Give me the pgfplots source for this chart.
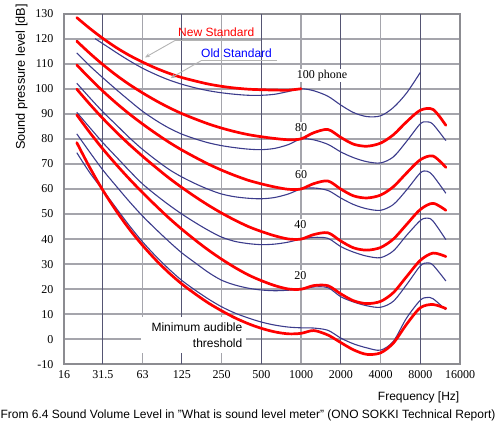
\documentclass[border=0pt]{standalone}
\usepackage{fontspec}
\setmainfont{Liberation Serif}
\setsansfont{Liberation Sans}
\usepackage{pgfplots}
\pgfplotsset{compat=1.18}
\usetikzlibrary{arrows.meta}
\definecolor{newred}{RGB}{255,0,0}
\definecolor{oldblue}{RGB}{60,60,140}
\definecolor{gridlight}{RGB}{165,165,172}
\definecolor{griddark}{RGB}{85,85,115}
\definecolor{framegray}{RGB}{140,140,145}
\definecolor{leadergray}{RGB}{180,180,180}
\definecolor{labelblue}{RGB}{0,0,255}

\begin{document}
\begin{tikzpicture}[x=1pt,y=1pt]
\useasboundingbox (0,0) rectangle (496,424);
\begin{axis}[
  at={(64pt,59.6pt)}, anchor=south west,
  scale only axis, width=396pt, height=350.8pt,
  xmode=log, xmin=16, xmax=16000, ymin=-10, ymax=130,
  xtick={16,63,250,1000,4000,16000},
  xticklabels={16,63,250,1000,4000,16000},
  extra x ticks={31.5,125,500,2000,8000},
  extra x tick labels={31.5,125,500,2000,8000},
  extra x tick style={grid=major, major grid style={griddark,line width=1.1pt}},
  ytick={-10,0,...,130},
  yticklabels={-10,0,10,20,30,40,50,60,70,80,90,100,110,120,130},
  grid=major,
  major grid style={gridlight,line width=1.8pt},
  axis line style={framegray,line width=2pt},
  major tick length=0pt,
  tick label style={font=\fontsize{12}{14}\selectfont},
  xticklabel style={yshift=-3pt},
  yticklabel style={xshift=-7pt},
]
% white box behind the threshold label
\fill[white] (axis cs:61.6,9) rectangle (axis cs:380,-5.4);

% ---------- Old standard (thin blue) ----------
\addplot[oldblue, line width=1.1pt, smooth] coordinates {
(27.5,120.0) (31.5,118.0) (40,114.4) (50,111.2) (63,108.2) (80,105.6) (100,103.5)
(125,101.8) (160,100.3) (200,99.2) (250,98.4) (315,97.8) (400,97.4) (500,97.4)
(630,97.8) (800,98.9) (1000,100.0) (1250,99.2) (1600,97.0) (2000,93.5) (2500,90.5)
(3150,88.9) (4000,89.2) (5000,92.5) (6300,98.3) (8000,106.5)};
\addplot[oldblue, line width=1.1pt, smooth] coordinates {
(20,114.3) (25,109.2) (31.5,104.4) (40,99.6) (50,95.3) (63,91.0) (80,87.3) (100,84.3)
(125,81.9) (160,79.9) (200,78.4) (250,77.3) (315,76.5) (400,75.9) (500,75.7)
(630,76.2) (800,77.7) (1000,80.0) (1250,79.6) (1600,77.8) (2000,74.8) (2500,72.5)
(3150,70.9) (4000,70.4) (5000,72.8) (6300,79.0) (8000,86.0) (9000,86.8) (10000,85.8) (12500,79.3)};
\addplot[oldblue, line width=1.1pt, smooth] coordinates {
(20,102.2) (25,96.5) (31.5,90.8) (40,85.5) (50,80.5) (63,75.8) (80,71.5) (100,67.8)
(125,64.8) (160,62.0) (200,59.8) (250,58.0) (315,56.9) (400,56.3) (500,56.1)
(630,56.6) (800,58.0) (1000,60.0) (1250,60.4) (1600,59.4) (2000,56.4) (2500,53.8)
(3150,52.1) (4000,51.5) (5000,53.8) (6300,59.6) (8000,66.4) (9000,67.1) (10000,65.3) (12500,58.3)};
\addplot[oldblue, line width=1.1pt, smooth] coordinates {
(20,90.6) (25,84.6) (31.5,78.5) (40,72.7) (50,67.3) (63,62.0) (80,57.5) (100,53.6)
(125,50.0) (160,46.4) (200,43.4) (250,40.8) (315,39.1) (400,38.2) (500,37.8)
(630,38.0) (800,38.8) (1000,40.0) (1250,40.7) (1600,40.3) (2000,37.0) (2500,34.8)
(3150,33.2) (4000,32.6) (5000,35.3) (6300,41.5) (8000,47.4) (9000,48.4) (10000,47.2) (12500,39.8)};
\addplot[oldblue, line width=1.1pt, smooth] coordinates {
(20,82.0) (25,74.8) (31.5,67.6) (40,61.0) (50,55.0) (63,49.2) (80,43.8) (100,39.0)
(125,34.5) (160,30.3) (200,26.6) (250,23.6) (315,21.7) (400,20.4) (500,19.7)
(630,19.4) (800,19.6) (1000,20.0) (1250,20.9) (1600,20.6) (2000,17.0) (2500,14.9)
(3150,13.4) (4000,12.8) (5000,15.2) (6300,21.8) (8000,29.3) (9000,30.5) (10000,29.6) (12500,23.3)};
\addplot[oldblue, line width=1.1pt, smooth] coordinates {
(20,74.5) (25,66.6) (31.5,59.6) (40,52.2) (50,45.4) (63,38.9) (80,33.0) (100,28.0)
(125,23.5) (160,19.4) (200,16.0) (250,13.0) (315,10.5) (400,8.5) (500,6.9)
(630,5.7) (800,4.9) (1000,4.6) (1250,4.5) (1600,3.6) (2000,0.5) (2500,-1.8)
(3150,-3.4) (4000,-4.3) (5000,-0.8) (6300,8.5) (8000,15.6) (9000,16.7) (10000,16.2) (12500,11.8)};

% ---------- New standard (thick red) ----------
\addplot[newred, line width=2.7pt, smooth, line cap=round, line join=round] coordinates {
(20,128.41) (25,124.15) (31.5,120.11) (40,116.38) (50,113.35) (63,110.65) (80,108.16)
(100,106.17) (125,104.48) (160,103.03) (200,101.85) (250,100.97) (315,100.30)
(400,99.83) (500,99.62) (630,99.50) (800,99.44) (1000,100.01)};
\addplot[newred, line width=2.7pt, smooth, line cap=round, line join=round] coordinates {
(20,118.99) (25,114.23) (31.5,109.65) (40,105.34) (50,101.72) (63,98.36) (80,95.17)
(100,92.48) (125,90.09) (160,87.82) (200,85.92) (250,84.31) (315,82.89) (400,81.68)
(500,80.86) (630,80.17) (800,79.67) (1000,80.01) (1250,82.48) (1600,83.74) (2000,80.59)
(2500,77.88) (3150,77.07) (4000,78.31) (5000,81.62) (6300,86.81) (8000,91.41)
(10000,91.74) (12500,85.41)};
\addplot[newred, line width=2.7pt, smooth, line cap=round, line join=round] coordinates {
(20,109.51) (25,104.23) (31.5,99.08) (40,94.18) (50,89.96) (63,85.94) (80,82.05)
(100,78.65) (125,75.56) (160,72.48) (200,69.86) (250,67.53) (315,65.39) (400,63.45)
(500,62.05) (630,60.82) (800,59.89) (1000,60.01) (1250,62.15) (1600,63.19) (2000,59.96)
(2500,57.26) (3150,56.42) (4000,57.57) (5000,60.89) (6300,66.36) (8000,71.66)
(10000,73.15) (12500,68.63)};
\addplot[newred, line width=2.7pt, smooth, line cap=round, line join=round] coordinates {
(20,99.85) (25,93.94) (31.5,88.17) (40,82.63) (50,77.78) (63,73.08) (80,68.48)
(100,64.37) (125,60.59) (160,56.70) (200,53.41) (250,50.40) (315,47.58) (400,44.98)
(500,43.05) (630,41.34) (800,40.06) (1000,40.01) (1250,41.82) (1600,42.51) (2000,39.23)
(2500,36.51) (3150,35.61) (4000,36.65) (5000,40.01) (6300,45.83) (8000,51.80)
(10000,54.28) (12500,51.49)};
\addplot[newred, line width=2.7pt, smooth, line cap=round, line join=round] coordinates {
(20,89.58) (25,82.65) (31.5,75.98) (40,69.62) (50,64.02) (63,58.55) (80,53.19)
(100,48.38) (125,43.94) (160,39.37) (200,35.51) (250,31.99) (315,28.69) (400,25.67)
(500,23.43) (630,21.48) (800,20.10) (1000,20.01) (1250,21.46) (1600,21.40) (2000,18.15)
(2500,15.39) (3150,14.26) (4000,15.14) (5000,18.64) (6300,25.02) (8000,31.52)
(10000,34.43) (12500,33.04)};
\addplot[newred, line width=2.7pt, smooth, line cap=round, line join=round] coordinates {
(20,78.5) (25,68.7) (31.5,59.5) (40,51.1) (50,44.0) (63,37.5) (80,31.5) (100,26.5)
(125,22.1) (160,17.9) (200,14.4) (250,11.4) (315,8.6) (400,6.2) (500,4.4) (630,3.0)
(800,2.2) (1000,2.4) (1250,3.5) (1600,1.7) (2000,-1.3) (2500,-4.2) (3150,-6.0)
(4000,-5.4) (5000,-1.5) (6300,6.0) (8000,12.6) (10000,13.9) (12500,12.3)};

% ---------- labels inside the plot ----------
\node[anchor=west, fill=white, inner sep=1pt, font=\fontsize{12}{14}\selectfont] at (axis cs:912,105.3) {100 phone};
\node[fill=white, inner sep=1pt, font=\fontsize{12}{14}\selectfont] at (axis cs:1000,84.7) {80};
\node[fill=white, inner sep=1pt, font=\fontsize{12}{14}\selectfont] at (axis cs:1000,65.9) {60};
\node[fill=white, inner sep=1pt, font=\fontsize{12}{14}\selectfont] at (axis cs:990,45.9) {40};
\node[fill=white, inner sep=1pt, font=\fontsize{12}{14}\selectfont] at (axis cs:990,25.6) {20};
\node[anchor=east, align=right, inner sep=0pt, font=\sffamily\fontsize{12}{16}\selectfont] at (axis cs:360,1.6) {Minimum audible\\threshold};
\end{axis}

% ---------- annotations outside / over the axis ----------
\node[anchor=base west, inner sep=0pt, text=newred, font=\sffamily\fontsize{12}{14}\selectfont] at (178,387.6) {New Standard};
\draw[leadergray, line width=0.9pt] (261,383.5) -- (175,383.5);
\draw[leadergray, line width=0.9pt, -{Stealth[length=5pt,width=4pt]}] (175,383.5) -- (145,366.5);
\node[anchor=base west, inner sep=0pt, text=labelblue, font=\sffamily\fontsize{12}{14}\selectfont] at (201,366.3) {Old Standard};
\draw[leadergray, line width=0.9pt] (277,363.2) -- (201,363.2);
\draw[leadergray, line width=0.9pt, -{Stealth[length=5pt,width=4pt]}] (201,363.2) -- (170.5,345.8);

\node[anchor=west, rotate=90, inner sep=0pt, font=\sffamily\fontsize{12.7}{15}\selectfont] at (21.5,274) {Sound pressure level [dB]};
\node[anchor=base east, inner sep=0pt, font=\sffamily\fontsize{12}{14}\selectfont] at (459.5,23.7) {Frequency [Hz]};
\node[anchor=base, inner sep=0pt, font=\sffamily\fontsize{12}{14}\selectfont] at (248,5.4) {From 6.4 Sound Volume Level in "What is sound level meter'' (ONO SOKKI Technical Report)};
\end{tikzpicture}
\end{document}
